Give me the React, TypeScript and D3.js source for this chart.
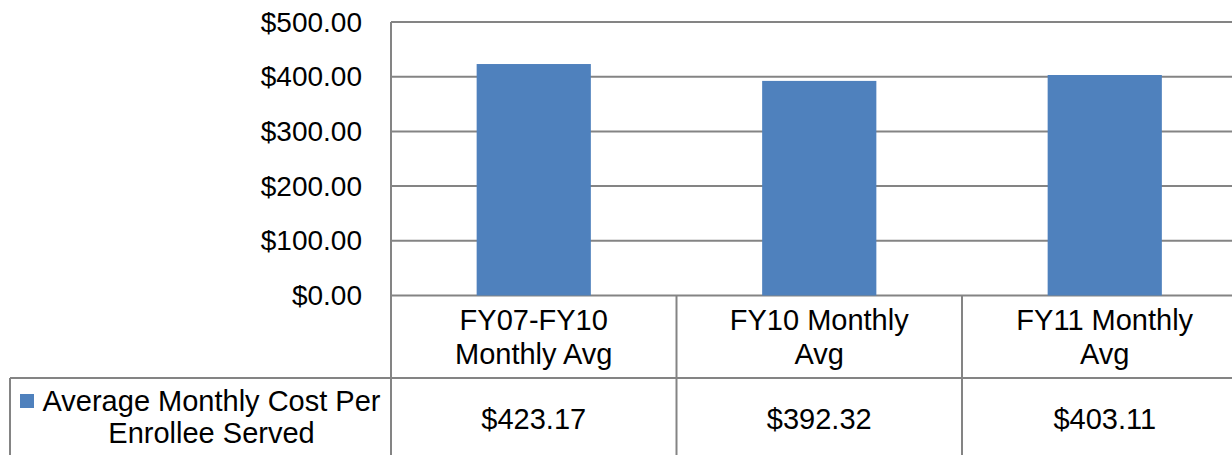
import React from "react";
import * as d3 from "d3";

const categories: string[][] = [
  ["FY07-FY10", "Monthly Avg"],
  ["FY10 Monthly", "Avg"],
  ["FY11 Monthly", "Avg"],
];
const values: number[] = [423.17, 392.32, 403.11];
const valueLabels: string[] = ["$423.17", "$392.32", "$403.11"];
const yTicks: number[] = [0, 100, 200, 300, 400, 500];
const seriesName: string[] = ["Average Monthly Cost Per", "Enrollee Served"];

const W = 1232;
const H = 455;
const FONT = "'Liberation Sans', Arial, sans-serif";
const FS_AXIS = 28;
const FS_TABLE = 29;
const LINE = "#848484";
const BAR = "#4F81BD";

export default function App() {
  const left = 391;
  const band = 285.5;
  const x = d3
    .scaleBand<number>()
    .domain(categories.map((_, i) => i))
    .range([left, left + band * categories.length])
    .paddingInner(0)
    .paddingOuter(0);
  const y = d3.scaleLinear().domain([0, 500]).range([295.5, 22]);
  const fmt = (v: number) => "$" + d3.format(",.2f")(v);
  const bw = x.bandwidth() * 0.4;
  const headerBottom = 378;
  const rowBottom = 458;
  const tableRight = left + band * categories.length;

  return (
    <svg
      width={W}
      height={H}
      style={{ position: "absolute", left: 0, top: 0, background: "#fff" }}
      fontFamily={FONT}
    >
      <rect x={0} y={0} width={W} height={H} fill="#fff" />
      {yTicks.map((t) => (
        <line
          key={"g" + t}
          x1={left}
          x2={tableRight}
          y1={y(t)}
          y2={y(t)}
          stroke={LINE}
          strokeWidth={2}
        />
      ))}
      {yTicks.map((t) => (
        <text
          key={"l" + t}
          x={362}
          y={y(t)}
          textAnchor="end"
          dominantBaseline="central"
          fill="#000"
          fontSize={FS_AXIS}
        >
          {fmt(t)}
        </text>
      ))}
      {values.map((v, i) => (
        <rect
          key={"b" + i}
          x={(x(i) as number) + (x.bandwidth() - bw) / 2}
          y={y(v)}
          width={bw}
          height={y(0) - y(v)}
          fill={BAR}
        />
      ))}
      <line x1={left} x2={left} y1={y(500)} y2={rowBottom} stroke={LINE} strokeWidth={2} />
      {categories.map((_, i) => (
        <line
          key={"v" + i}
          x1={(x(i) as number) + x.bandwidth()}
          x2={(x(i) as number) + x.bandwidth()}
          y1={y(0)}
          y2={rowBottom}
          stroke={LINE}
          strokeWidth={2}
        />
      ))}
      <line x1={10} x2={tableRight} y1={headerBottom} y2={headerBottom} stroke={LINE} strokeWidth={2} />
      <line x1={10} x2={tableRight} y1={rowBottom} y2={rowBottom} stroke={LINE} strokeWidth={2} />
      <line x1={10} x2={10} y1={headerBottom} y2={rowBottom} stroke={LINE} strokeWidth={2} />
      {categories.map((lines, i) => {
        const cx = (x(i) as number) + x.bandwidth() / 2;
        const cy = (y(0) + headerBottom) / 2 + 0.5;
        return (
          <text key={"c" + i} x={cx} textAnchor="middle" fill="#000" fontSize={FS_TABLE}>
            {lines.map((ln, j) => (
              <tspan
                key={j}
                x={cx}
                y={cy + (j - (lines.length - 1) / 2) * 34}
                dominantBaseline="central"
              >
                {ln}
              </tspan>
            ))}
          </text>
        );
      })}
      {valueLabels.map((s, i) => (
        <text
          key={"val" + i}
          x={(x(i) as number) + x.bandwidth() / 2}
          y={419}
          textAnchor="middle"
          dominantBaseline="central"
          fill="#000"
          fontSize={FS_TABLE}
        >
          {s}
        </text>
      ))}
      <rect x={20} y={394} width={14} height={14} fill={BAR} />
      {seriesName.map((s, j) => (
        <text
          key={"s" + j}
          x={211.5}
          y={401 + j * 32}
          textAnchor="middle"
          dominantBaseline="central"
          fill="#000"
          fontSize={FS_TABLE}
        >
          {s}
        </text>
      ))}
    </svg>
  );
}
